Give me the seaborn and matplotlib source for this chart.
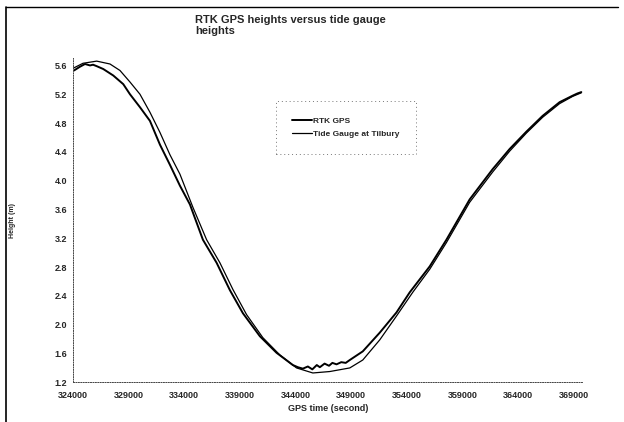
import pandas as pd
import matplotlib
matplotlib.use('Agg')
import matplotlib.pyplot as plt
import seaborn as sns

# ==========================================
# Data
# ==========================================
rtk_time = [324090, 324600, 325077, 325526, 325800, 326128, 326720, 327618, 328516,
            329117, 330015, 330912, 331810, 332708, 333606, 334503, 335670, 336900,
            338094, 339261, 340787, 342286, 343750, 344200, 344650, 345100, 345500,
            345900, 346176, 346600, 347000, 347300, 347675, 348100, 348500, 348866,
            350033, 351559, 353058, 354252, 356047, 357546, 359636, 361700, 363227,
            364726, 366190, 367716, 368883, 369300, 369665]
rtk_height = [5.53, 5.58, 5.62, 5.60, 5.61, 5.59, 5.55, 5.46, 5.34,
              5.20, 5.02, 4.83, 4.50, 4.22, 3.93, 3.67, 3.18, 2.86,
              2.48, 2.16, 1.84, 1.61, 1.44, 1.41, 1.39, 1.42, 1.38,
              1.44, 1.41, 1.46, 1.43, 1.47, 1.45, 1.48, 1.47, 1.51,
              1.63, 1.89, 2.17, 2.45, 2.81, 3.18, 3.74, 4.16, 4.44,
              4.68, 4.90, 5.09, 5.18, 5.21, 5.23]

tide_time = [324000, 324898, 326128, 327321, 328219, 329117, 330015, 330912, 331810,
             332708, 333606, 334772, 336002, 337196, 338363, 339593, 341056, 342582,
             344081, 345545, 347071, 348866, 350033, 351559, 353058, 354522, 356047,
             357546, 359636, 361700, 363227, 364726, 366190, 367716, 368883, 369665]
tide_height = [5.56, 5.63, 5.66, 5.62, 5.53, 5.37, 5.20, 4.95, 4.67,
               4.36, 4.09, 3.63, 3.18, 2.86, 2.49, 2.14, 1.82, 1.58,
               1.40, 1.33, 1.35, 1.40, 1.51, 1.79, 2.12, 2.45, 2.77,
               3.14, 3.70, 4.12, 4.41, 4.66, 4.88, 5.07, 5.17, 5.22]

x_ticks = [324000, 329000, 334000, 339000, 344000, 349000, 354000, 359000, 364000, 369000]
y_ticks = [1.2, 1.6, 2.0, 2.4, 2.8, 3.2, 3.6, 4.0, 4.4, 4.8, 5.2, 5.6]

rtk = pd.DataFrame({'time': rtk_time, 'height': rtk_height})
tide = pd.DataFrame({'time': tide_time, 'height': tide_height})

# ==========================================
# Plot
# ==========================================
sns.set_style('white')
plt.rcParams['font.family'] = ['Liberation Sans', 'DejaVu Sans']

fig = plt.figure(figsize=(6.24, 4.22), dpi=100)
ax = fig.add_axes([0.117, 0.094, 0.817, 0.768])

sns.lineplot(data=rtk, x='time', y='height', ax=ax, color='black', linewidth=1.4,
             label='RTK GPS', sort=False)
sns.lineplot(data=tide, x='time', y='height', ax=ax, color='black', linewidth=0.9,
             label='Tide Gauge at Tilbury', sort=False)

ax.set_xlim(324000, 369800)
ax.set_ylim(1.2, 5.7)
ax.set_xticks(x_ticks)
ax.set_xticklabels([str(t) for t in x_ticks], fontsize=6.5, fontweight='bold')
ax.set_yticks(y_ticks)
ax.set_yticklabels([f'{v:.1f}' for v in y_ticks], fontsize=6.5, fontweight='bold')
ax.tick_params(axis='y', length=2, width=0.6, pad=2)
ax.tick_params(axis='x', length=0, pad=6)

for side in ['top', 'right']:
    ax.spines[side].set_visible(False)
for side in ['left', 'bottom']:
    ax.spines[side].set_linestyle((0, (1, 1.5)))
    ax.spines[side].set_linewidth(0.7)
    ax.spines[side].set_color('#444444')

ax.set_xlabel('GPS time (second)', fontsize=6.5, fontweight='bold', labelpad=3)
ax.set_ylabel('Height (m)', fontsize=5, fontweight='bold', labelpad=28)

leg = ax.legend(loc='upper left', bbox_to_anchor=(0.39, 0.88), fontsize=6,
                frameon=True, fancybox=False, handlelength=2.4, borderpad=1.9,
                labelspacing=0.6, handletextpad=0.2)
leg.get_frame().set_edgecolor('#555555')
leg.get_frame().set_linestyle((0, (1, 3)))
leg.get_frame().set_linewidth(0.7)
for t in leg.get_texts():
    t.set_fontweight('bold')

fig.text(0.313, 0.965, 'RTK GPS heights versus tide gauge\nheights', fontsize=8,
         fontweight='bold', ha='left', va='top', linespacing=1.1)

# outer chart frame (left and top edges visible in the scan)
fig.add_artist(plt.Line2D([0.009, 0.009], [0.0, 0.983], color='black', linewidth=1.2,
                          transform=fig.transFigure))
fig.add_artist(plt.Line2D([0.009, 0.99], [0.983, 0.983], color='black', linewidth=1.0,
                          transform=fig.transFigure))

fig.savefig('out.png', dpi=100)
